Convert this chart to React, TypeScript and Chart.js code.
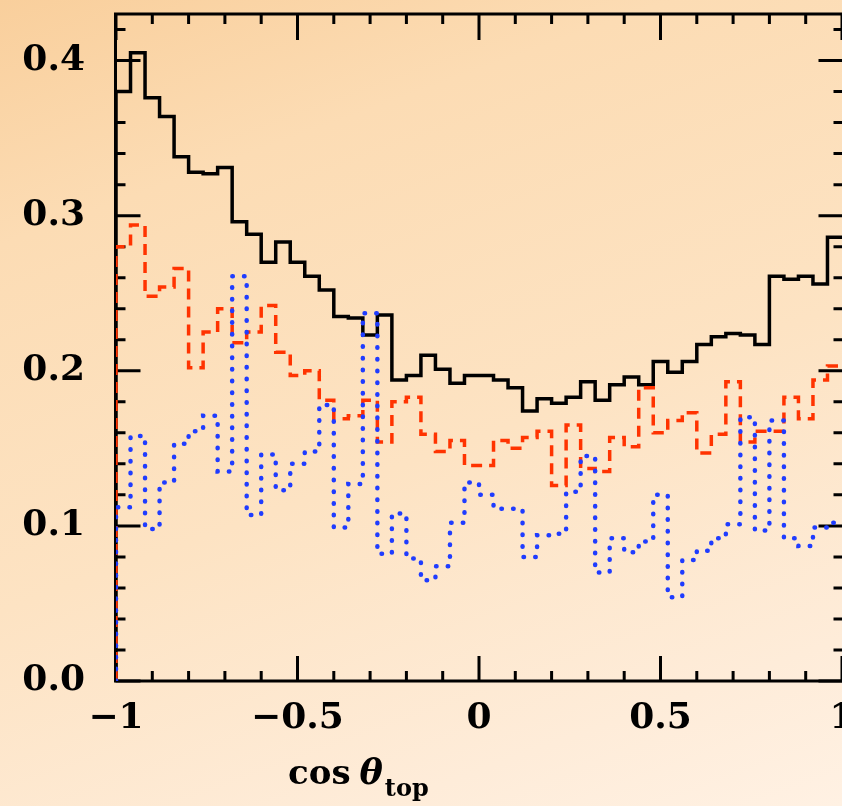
import React, { useEffect, useRef } from 'react';
import { Chart, registerables } from 'chart.js';

Chart.register(...registerables);

// Histogram binning in cos(theta_top): 50 bins of width 0.04 starting at -1
const BIN_START = -1;
const BIN_WIDTH = 0.04;

// Black solid histogram
const solidSeries = [
  0.380, 0.405, 0.376, 0.364, 0.338, 0.328, 0.327, 0.331, 0.296, 0.288,
  0.270, 0.283, 0.270, 0.261, 0.252, 0.235, 0.234, 0.223, 0.236, 0.194,
  0.197, 0.210, 0.201, 0.192, 0.197, 0.197, 0.194, 0.189, 0.174, 0.182,
  0.179, 0.183, 0.193, 0.181, 0.191, 0.196, 0.191, 0.206, 0.199, 0.206,
  0.217, 0.222, 0.224, 0.223, 0.217, 0.261, 0.259, 0.261, 0.256, 0.286,
];

// Red dashed histogram
const dashedSeries = [
  0.280, 0.294, 0.248, 0.254, 0.266, 0.202, 0.225, 0.240, 0.218, 0.225,
  0.242, 0.212, 0.197, 0.200, 0.181, 0.169, 0.171, 0.181, 0.154, 0.180,
  0.183, 0.159, 0.148, 0.155, 0.139, 0.139, 0.155, 0.150, 0.157, 0.161,
  0.126, 0.165, 0.137, 0.135, 0.157, 0.151, 0.189, 0.160, 0.168, 0.173,
  0.147, 0.159, 0.193, 0.154, 0.161, 0.161, 0.183, 0.169, 0.194, 0.203,
];

// Blue dotted histogram
const dottedSeries = [
  0.112, 0.158, 0.098, 0.128, 0.153, 0.161, 0.171, 0.135, 0.261, 0.107,
  0.146, 0.123, 0.140, 0.148, 0.178, 0.099, 0.127, 0.237, 0.082, 0.108,
  0.079, 0.065, 0.074, 0.102, 0.128, 0.120, 0.111, 0.111, 0.080, 0.094,
  0.095, 0.122, 0.145, 0.070, 0.092, 0.083, 0.090, 0.120, 0.054, 0.078,
  0.084, 0.092, 0.101, 0.170, 0.097, 0.168, 0.092, 0.087, 0.099, 0.102,
];

const X_TICKS = [-1, -0.5, 0, 0.5, 1];
const X_TICK_LABELS = ['\u22121', '\u22120.5', '0', '0.5', '1'];
const X_MINOR = [-0.9, -0.8, -0.7, -0.6, -0.4, -0.3, -0.2, -0.1, 0.1, 0.2, 0.3, 0.4, 0.6, 0.7, 0.8, 0.9];
const Y_TICKS = [0, 0.1, 0.2, 0.3, 0.4];
const Y_TICK_LABELS = ['0.0', '0.1', '0.2', '0.3', '0.4'];
const Y_MINOR = [0.02, 0.04, 0.06, 0.08, 0.12, 0.14, 0.16, 0.18, 0.22, 0.24, 0.26, 0.28, 0.32, 0.34, 0.36, 0.38, 0.42];
const X_MIN = -1;
const X_MAX = 1;
const Y_MIN = 0;
const Y_MAX = 0.43;

const FONT_FAMILY = '"DejaVu Serif", "Liberation Serif", serif';

function toSteps(values: number[]) {
  const pts: { x: number; y: number }[] = [{ x: BIN_START, y: 0 }];
  values.forEach((v, i) => pts.push({ x: BIN_START + i * BIN_WIDTH, y: v }));
  pts.push({ x: BIN_START + values.length * BIN_WIDTH, y: values[values.length - 1] });
  return pts;
}

const framePlugin = {
  id: 'frameTicks',
  beforeDatasetsDraw(chart: any) {
    const { ctx, chartArea: a, scales } = chart;
    const xs = scales.x;
    const ys = scales.y;
    const L = a.left - 0.5;
    const R = a.right + 1.5;
    const T = a.top;
    const B = a.bottom;
    const MAJ = 25;
    const MIN = 10;
    ctx.save();
    ctx.strokeStyle = '#000';
    ctx.lineWidth = 3;
    ctx.lineCap = 'butt';
    ctx.beginPath();
    ctx.rect(L, T, R - L, B - T);
    ctx.stroke();
    ctx.beginPath();
    Y_TICKS.forEach((v) => {
      const p = ys.getPixelForValue(v);
      ctx.moveTo(L, p); ctx.lineTo(L + MAJ, p);
      ctx.moveTo(R, p); ctx.lineTo(R - MAJ, p);
    });
    Y_MINOR.forEach((v) => {
      const p = ys.getPixelForValue(v);
      ctx.moveTo(L, p); ctx.lineTo(L + MIN, p);
      ctx.moveTo(R, p); ctx.lineTo(R - MIN, p);
    });
    X_TICKS.forEach((v) => {
      const p = xs.getPixelForValue(v);
      ctx.moveTo(p, B); ctx.lineTo(p, B - MAJ);
      ctx.moveTo(p, T); ctx.lineTo(p, T + MAJ + 1);
    });
    X_MINOR.forEach((v) => {
      const p = xs.getPixelForValue(v);
      ctx.moveTo(p, B); ctx.lineTo(p, B - MIN);
      ctx.moveTo(p, T); ctx.lineTo(p, T + MIN);
    });
    ctx.stroke();
    ctx.restore();
  },
  afterDraw(chart: any) {
    const { ctx } = chart;
    ctx.save();
    ctx.fillStyle = '#000';
    ctx.textBaseline = 'alphabetic';
    let x = 288;
    const base = 784;
    ctx.font = `bold 34px ${FONT_FAMILY}`;
    ctx.fillText('cos', x, base);
    x += ctx.measureText('cos').width + 9;
    ctx.font = `italic bold 35px ${FONT_FAMILY}`;
    ctx.fillText('\u03b8', x, base);
    x += ctx.measureText('\u03b8').width + 2;
    ctx.font = `bold 24px ${FONT_FAMILY}`;
    ctx.fillText('top', x, base + 12);
    ctx.restore();
  },
};

export default function App() {
  const canvasRef = useRef<HTMLCanvasElement | null>(null);

  useEffect(() => {
    const canvas = canvasRef.current;
    if (!canvas) return;
    const tickFont = { family: FONT_FAMILY, weight: 'bold' as const, size: 36 };
    const chart = new Chart(canvas, {
      type: 'line',
      data: {
        datasets: [
          {
            label: 'dotted',
            data: toSteps(dottedSeries),
            borderColor: '#1f3cff',
            borderWidth: 4.5,
            borderDash: [0.5, 11.2],
            borderCapStyle: 'round',
            stepped: 'before',
            pointRadius: 0,
            fill: false,
            order: 0,
          },
          {
            label: 'dashed',
            data: toSteps(dashedSeries),
            borderColor: '#ff3300',
            borderWidth: 3.5,
            borderDash: [11, 7],
            stepped: 'before',
            pointRadius: 0,
            fill: false,
            order: 1,
          },
          {
            label: 'solid',
            data: toSteps(solidSeries),
            borderColor: '#000000',
            borderWidth: 3.5,
            stepped: 'before',
            pointRadius: 0,
            fill: false,
            order: 2,
          },
        ],
      },
      options: {
        animation: false,
        responsive: false,
        devicePixelRatio: 1,
        layout: { padding: { left: 0, right: 0, top: 14, bottom: 0 } },
        plugins: { legend: { display: false }, tooltip: { enabled: false } },
        scales: {
          x: {
            type: 'linear',
            min: X_MIN,
            max: X_MAX,
            grid: { display: false, drawTicks: false },
            border: { display: false },
            afterBuildTicks: (s: any) => { s.ticks = X_TICKS.map((v) => ({ value: v })); },
            afterFit: (s: any) => { s.height = 125; s.paddingLeft = 0; s.paddingRight = 0; },
            ticks: {
              autoSkip: false,
              maxRotation: 0,
              minRotation: 0,
              padding: 16,
              color: '#000',
              font: tickFont,
              callback: (v: any) => {
                const i = X_TICKS.indexOf(Number(v));
                return i >= 0 ? X_TICK_LABELS[i] : '';
              },
            },
          },
          y: {
            type: 'linear',
            min: Y_MIN,
            max: Y_MAX,
            grid: { display: false, drawTicks: false },
            border: { display: false },
            afterBuildTicks: (s: any) => { s.ticks = Y_TICKS.map((v) => ({ value: v })); },
            afterFit: (s: any) => { s.width = 116; s.paddingTop = 0; s.paddingBottom = 0; },
            ticks: {
              autoSkip: false,
              padding: 31,
              color: '#000',
              font: tickFont,
              callback: (v: any) => {
                const i = Y_TICKS.findIndex((t) => Math.abs(t - Number(v)) < 1e-9);
                return i >= 0 ? Y_TICK_LABELS[i] : '';
              },
            },
          },
        },
      } as any,
      plugins: [framePlugin],
    });
    return () => chart.destroy();
  }, []);

  return (
    <div
      style={{
        position: 'absolute',
        left: 0,
        top: 0,
        width: 842,
        height: 806,
        overflow: 'hidden',
        background:
          'linear-gradient(160deg, #f9cf9c 0%, #fcdcb4 22%, #fde3c3 55%, #feecd9 85%, #fff1e3 100%)',
      }}
    >
      <canvas ref={canvasRef} width={842} height={806} style={{ display: 'block' }} />
    </div>
  );
}
